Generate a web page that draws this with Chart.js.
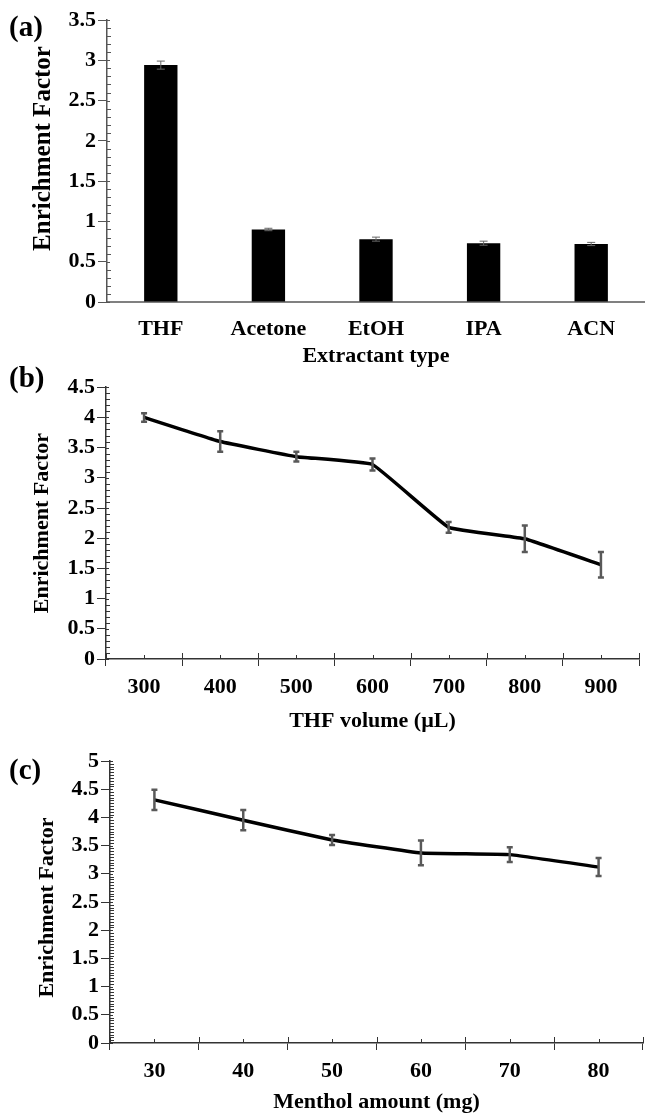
<!DOCTYPE html>
<html>
<head>
<meta charset="utf-8">
<script src="https://cdn.jsdelivr.net/npm/chart.js@4.4.0/dist/chart.umd.min.js"></script>
<style>
  body { margin: 0; background: #fff; }
  #wrap { position: relative; width: 645px; height: 1118px; overflow: hidden; }
  canvas { position: absolute; left: 0; }
  .panel { position: absolute; left: 9px; font: bold 29px "Liberation Serif", serif; line-height: 29px; color: #000; }
</style>
</head>
<body>
<div id="wrap">
  <canvas id="chartA" width="645" height="372" style="top:0"></canvas>
  <canvas id="chartB" width="645" height="368" style="top:372px"></canvas>
  <canvas id="chartC" width="645" height="378" style="top:740px"></canvas>
  <div class="panel" style="top:12px">(a)</div>
  <div class="panel" style="top:363px">(b)</div>
  <div class="panel" style="top:755px">(c)</div>
</div>
<script>
// (a) extractant type
var extractants = ['THF', 'Acetone', 'EtOH', 'IPA', 'ACN'];
var efExtractant = [2.94, 0.90, 0.78, 0.73, 0.72];
var errExtractant = [0.05, 0.015, 0.025, 0.025, 0.02];

// (b) THF volume
var thfVolumes = ['300', '400', '500', '600', '700', '800', '900'];
var efVolume = [4.00, 3.60, 3.35, 3.22, 2.18, 1.99, 1.56];
var errVolume = [0.07, 0.17, 0.08, 0.10, 0.09, 0.22, 0.21];

// (c) menthol amount
var mentholAmounts = ['30', '40', '50', '60', '70', '80'];
var efMenthol = [4.31, 3.95, 3.60, 3.37, 3.34, 3.12];
var errMenthol = [0.18, 0.18, 0.09, 0.22, 0.13, 0.16];

var serif = '"Liberation Serif", "Times New Roman", serif';

// minor ticks, inner tick parts and error bars, all placed with the chart's scales
var axisMarks = {
    id: 'axisMarks',
    afterDatasetsDraw: function (chart, args, o) {
        var ctx = chart.ctx;
        var xs = chart.scales.x, ys = chart.scales.y;
        ctx.save();

        // error bars
        var meta = chart.getDatasetMeta(0);
        var vals = chart.data.datasets[0].data;
        ctx.strokeStyle = o.errColor;
        ctx.lineWidth = o.errWidth;
        meta.data.forEach(function (el, i) {
            var px = el.x;
            var y1 = ys.getPixelForValue(vals[i] - o.errors[i]);
            var y2 = ys.getPixelForValue(vals[i] + o.errors[i]);
            ctx.beginPath();
            ctx.moveTo(px, y1); ctx.lineTo(px, y2);
            ctx.moveTo(px - o.cap, y1); ctx.lineTo(px + o.cap, y1);
            ctx.moveTo(px - o.cap, y2); ctx.lineTo(px + o.cap, y2);
            ctx.stroke();
        });

        // y axis: minor ticks inside, majors poke in a little
        ctx.strokeStyle = o.axisColor;
        ctx.lineWidth = 1;
        var step = ys.options.ticks.stepSize;
        var n = Math.round((ys.max - ys.min) / o.minorStep);
        for (var k = 0; k <= n; k++) {
            var v = ys.min + k * o.minorStep;
            var py = Math.round(ys.getPixelForValue(v)) + 0.5;
            var r = v / step;
            var isMajor = Math.abs(r - Math.round(r)) < 1e-6;
            ctx.beginPath();
            ctx.moveTo(ys.right, py);
            ctx.lineTo(ys.right + (isMajor ? 3 : 4), py);
            ctx.stroke();
        }

        // x axis: boundary ticks go up too, short ticks on the categories
        if (o.xTicks) {
            var count = chart.data.labels.length;
            for (var j = 0; j <= count; j++) {
                var bx = Math.round(xs.getPixelForValue(j - 0.5)) + 0.5;
                ctx.beginPath();
                ctx.moveTo(bx, xs.top); ctx.lineTo(bx, xs.top - 6);
                ctx.stroke();
            }
            for (var m = 0; m < count; m++) {
                var cx = Math.round(xs.getPixelForValue(m)) + 0.5;
                ctx.beginPath();
                ctx.moveTo(cx, xs.top); ctx.lineTo(cx, xs.top - 4);
                ctx.stroke();
            }
        }
        ctx.restore();
    }
};

function yAxis(max, width, title, titleSize, titlePad, color) {
    return {
        min: 0, max: max,
        afterFit: function (s) { s.width = width; },
        ticks: {
            stepSize: 0.5, autoSkip: false, color: '#000', padding: 2,
            font: { family: serif, weight: 'bold', size: 22 },
            callback: function (v) { return String(v); }
        },
        grid: { drawOnChartArea: false, tickLength: 9, tickColor: color },
        border: { color: color, width: 1.5 },
        title: { display: true, text: title, color: '#000', padding: { top: titlePad }, font: { family: serif, weight: 'bold', size: titleSize } }
    };
}

function xLineAxis(height, title, titlePad, color) {
    return {
        type: 'category',
        offset: true,
        afterFit: function (s) { s.height = height; },
        ticks: { color: '#000', padding: 8, maxRotation: 0, autoSkip: false, font: { family: serif, weight: 'bold', size: 22 } },
        grid: { offset: true, drawOnChartArea: false, tickLength: 7, tickColor: color },
        border: { color: color, width: 1.5 },
        title: { display: true, text: title, color: '#000', padding: { bottom: titlePad }, font: { family: serif, weight: 'bold', size: 22 } }
    };
}

new Chart(document.getElementById('chartA'), {
    type: 'bar',
    data: {
        labels: extractants,
        datasets: [{ data: efExtractant, backgroundColor: '#000', borderWidth: 0, categoryPercentage: 1, barPercentage: 0.31 }]
    },
    options: {
        responsive: false, animation: false,
        layout: { padding: { top: 20, right: 0, left: 0, bottom: 0 } },
        plugins: {
            legend: { display: false }, tooltip: { enabled: false },
            axisMarks: { errors: errExtractant, errColor: '#666', errWidth: 1, cap: 4, axisColor: '#555', minorStep: 0.1, xTicks: false }
        },
        scales: {
            x: {
                afterFit: function (s) { s.height = 70; },
                ticks: { color: '#000', padding: 14, autoSkip: false, font: { family: serif, weight: 'bold', size: 22 } },
                grid: { display: false, drawTicks: false },
                border: { color: '#808080', width: 2 },
                title: { display: true, text: 'Extractant type', color: '#000', padding: { bottom: 2 }, font: { family: serif, weight: 'bold', size: 22 } }
            },
            y: yAxis(3.5, 107, '    Enrichment Factor', 25, 29, '#555')
        }
    },
    plugins: [axisMarks]
});

new Chart(document.getElementById('chartB'), {
    type: 'line',
    data: {
        labels: thfVolumes,
        datasets: [{ data: efVolume, borderColor: '#000', borderWidth: 3.5, pointRadius: 0, tension: 0.08, fill: false }]
    },
    options: {
        responsive: false, animation: false,
        layout: { padding: { top: 6, right: 6, left: 0, bottom: 0 } },
        plugins: {
            legend: { display: false }, tooltip: { enabled: false },
            axisMarks: { errors: errVolume, errColor: '#595959', errWidth: 2.5, cap: 3, axisColor: '#333', minorStep: 0.1, xTicks: true }
        },
        scales: {
            x: xLineAxis(81, 'THF volume (\u00b5L)', 5, '#333'),
            y: yAxis(4.5, 106, 'Enrichment Factor', 22, 29, '#333')
        }
    },
    plugins: [axisMarks]
});

new Chart(document.getElementById('chartC'), {
    type: 'line',
    data: {
        labels: mentholAmounts,
        datasets: [{ data: efMenthol, borderColor: '#000', borderWidth: 3.5, pointRadius: 0, tension: 0.08, fill: false }]
    },
    options: {
        responsive: false, animation: false,
        layout: { padding: { top: 21, right: 2, left: 0, bottom: 0 } },
        plugins: {
            legend: { display: false }, tooltip: { enabled: false },
            axisMarks: { errors: errMenthol, errColor: '#595959', errWidth: 2.5, cap: 3, axisColor: '#333', minorStep: 0.05, xTicks: true }
        },
        scales: {
            x: xLineAxis(75, 'Menthol amount (mg)', 2, '#333'),
            y: yAxis(5, 110, 'Enrichment Factor  ', 22, 34, '#333')
        }
    },
    plugins: [axisMarks]
});
</script>
</body>
</html>
